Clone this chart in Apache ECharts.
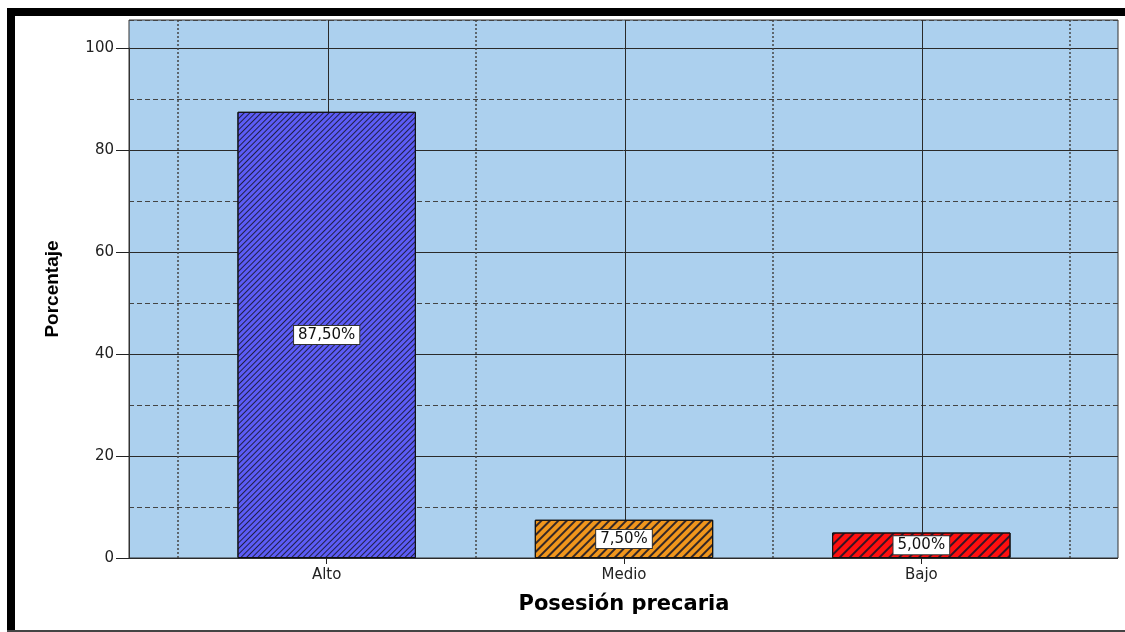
<!DOCTYPE html>
<html>
<head>
<meta charset="utf-8">
<script src="https://cdn.jsdelivr.net/npm/echarts@6/dist/echarts.min.js"></script>
<style>
  html, body { margin: 0; padding: 0; background: #fff; }
  #main { width: 1125px; height: 632px; }
</style>
</head>
<body>
<div id="main"></div>
<script>
// data
const categories = ['Alto', 'Medio', 'Bajo'];
const percentages = [87.5, 7.5, 5.0];
const barColors = ['#5c5cf6', '#f0961c', '#ff0f0f'];
const stripeGaps = [[1, 2.5], [2, 4], [2, 5]];
const yTicks = [0, 20, 40, 60, 80, 100];

const chart = echarts.init(document.getElementById('main'));

const font = 'DejaVu Sans, Liberation Sans, sans-serif';
const yMax = 105.5;
const gridTop = 20, gridBottom = 74;

let barData = percentages.map((v, i) => ({
  value: v,
  itemStyle: {
    color: barColors[i],
    borderColor: '#111',
    borderWidth: 1,
    decal: {
      symbol: 'rect',
      symbolSize: 1,
      dashArrayX: [1, 0],
      dashArrayY: stripeGaps[i],
      rotation: -Math.PI / 4,
      color: 'rgba(20,20,40,0.85)'
    }
  }
}));

let option = {
  animation: false,
  grid: [
    // background + dashed lines
    { left: 129, right: 7, top: gridTop, bottom: gridBottom, show: true,
      backgroundColor: '#acd0ee', borderColor: '#333', borderWidth: 1 },
    // labelled axis, top at value 100
    { left: 129, right: 7, top: 48, bottom: gridBottom },
    // bars, edges on the dotted lines
    { left: 178, right: 55, top: gridTop, bottom: gridBottom },
    // solid lines through the bar centres
    { left: 328, right: 203, top: gridTop, bottom: gridBottom }
  ],
  xAxis: [
    { gridIndex: 0, type: 'value', min: 0, max: 1, show: false },
    { gridIndex: 1, type: 'value', min: 0, max: 1, show: false },
    {
      gridIndex: 2, type: 'category', data: categories, boundaryGap: true,
      axisLine: { show: false },
      axisTick: { show: true, alignWithLabel: true, length: 6, lineStyle: { color: '#222' } },
      axisLabel: { color: '#222', fontFamily: font, fontSize: 15, margin: 10 },
      splitLine: { show: true, lineStyle: { color: '#444', type: [2, 2], width: 1.5 } },
      name: 'Posesión precaria', nameLocation: 'middle', nameGap: 36,
      nameTextStyle: { color: '#000', fontFamily: font, fontWeight: 'bold', fontSize: 21 }
    },
    {
      gridIndex: 3, type: 'value', min: 0, max: 2, interval: 1,
      axisLine: { show: false }, axisTick: { show: false }, axisLabel: { show: false },
      splitLine: { show: true, lineStyle: { color: '#2a2a2a', width: 1 } }
    }
  ],
  yAxis: [
    {
      gridIndex: 0, type: 'value', min: 0, max: yMax, interval: 10,
      axisLine: { show: false }, axisTick: { show: false }, axisLabel: { show: false },
      splitLine: { show: true, lineStyle: { color: '#444', type: [5, 3], width: 1 } },
      name: 'Porcentaje', nameLocation: 'middle', nameGap: 67, nameRotate: 90,
      nameTextStyle: { color: '#000', fontFamily: 'Liberation Sans Narrow, Liberation Sans, sans-serif',
        fontWeight: 'bold', fontSize: 19 }
    },
    {
      gridIndex: 1, type: 'value', min: yTicks[0], max: yTicks[yTicks.length - 1], interval: 20,
      axisLine: { show: true, lineStyle: { color: '#333' } },
      axisTick: { show: true, inside: false, length: 13, lineStyle: { color: '#222' } },
      axisLabel: { color: '#222', fontFamily: font, fontSize: 15, margin: 15 },
      splitLine: { show: true, lineStyle: { color: '#2a2a2a', width: 1 } }
    },
    { gridIndex: 2, type: 'value', min: 0, max: yMax, show: false },
    { gridIndex: 3, type: 'value', min: 0, max: yMax, show: false }
  ],
  series: [
    {
      type: 'bar', xAxisIndex: 2, yAxisIndex: 2,
      barWidth: '60%',
      data: barData,
      label: {
        show: true, position: 'inside',
        formatter: p => p.value.toFixed(2).replace('.', ',') + '%',
        color: '#111', fontFamily: font, fontSize: 15,
        backgroundColor: '#fff', borderColor: '#333', borderWidth: 1,
        padding: [2, 4, 1, 4]
      }
    }
  ],
  graphic: [
    { type: 'rect', shape: { x: 7, y: 8, width: 1118, height: 8 }, style: { fill: '#000' }, silent: true },
    { type: 'rect', shape: { x: 7, y: 8, width: 8, height: 624 }, style: { fill: '#000' }, silent: true },
    { type: 'rect', shape: { x: 7, y: 630, width: 1118, height: 2 }, style: { fill: '#444' }, silent: true }
  ]
};

chart.setOption(option);
</script>
</body>
</html>
